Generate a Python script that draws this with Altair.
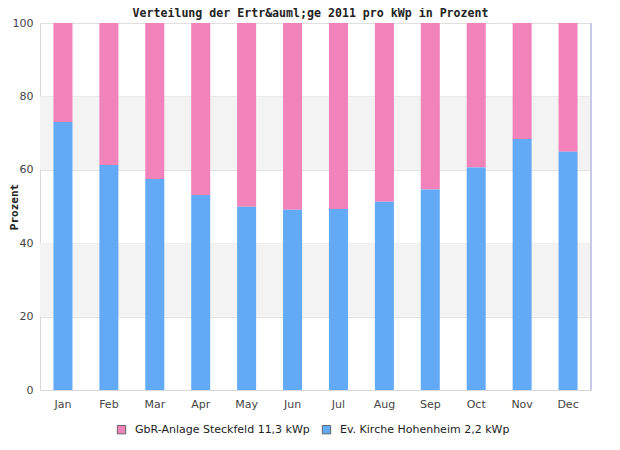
import altair as alt
import pandas as pd

months = ["Jan", "Feb", "Mar", "Apr", "May", "Jun", "Jul", "Aug", "Sep", "Oct", "Nov", "Dec"]
kirche = [73.0, 61.3, 57.5, 53.1, 49.9, 49.1, 49.3, 51.3, 54.6, 60.6, 68.4, 64.9]
gbr = [round(100 - v, 1) for v in kirche]
series_names = ["GbR-Anlage Steckfeld 11,3 kWp", "Ev. Kirche Hohenheim 2,2 kWp"]
series_colors = ["#f282ba", "#62aaf5"]
band_lo = [20, 60]
band_hi = [40, 80]

rows = []
for m, g, k in zip(months, gbr, kirche):
    rows.append({"Monat": m, "Serie": series_names[0], "Wert": g, "ord": 1})
    rows.append({"Monat": m, "Serie": series_names[1], "Wert": k, "ord": 0})
df = pd.DataFrame(rows)
bands = pd.DataFrame({"lo": band_lo, "hi": band_hi})

W, H = 551, 367

band_layer = alt.Chart(bands).mark_rect(color="#f3f3f3").encode(
    y=alt.Y("lo:Q", scale=alt.Scale(domain=[0, 100])),
    y2="hi:Q",
    x=alt.value(0),
    x2=alt.value(W),
)

bars = alt.Chart(df).mark_bar(size=19).encode(
    x=alt.X("Monat:N", sort=months, title=None,
            axis=alt.Axis(labelAngle=0, labelColor="#444444", labelFont="DejaVu Sans",
                          labelFontSize=11, domainColor="#d8d8d8", ticks=False,
                          labelPadding=8, grid=False)),
    y=alt.Y("Wert:Q", stack="zero", scale=alt.Scale(domain=[0, 100], nice=False),
            title="Prozent",
            axis=alt.Axis(values=[0, 20, 40, 60, 80, 100], labelColor="#444444",
                          labelFont="DejaVu Sans", labelFontSize=11, ticks=False,
                          labelPadding=7, domainColor="#d8d8d8",
                          gridColor="#e0e0e0", grid=True,
                          titleFont="DejaVu Sans Mono", titleFontSize=11,
                          titleFontWeight="bold", titleColor="#222222",
                          titleX=-23, titleY=H / 2, titleAngle=270,
                          titleBaseline="alphabetic", titleAlign="center")),
    color=alt.Color("Serie:N", scale=alt.Scale(domain=series_names, range=series_colors),
                    title=None,
                    legend=alt.Legend(orient="none", direction="horizontal",
                                      legendX=76, legendY=401, symbolType="square",
                                      symbolSize=70, symbolStrokeColor="#666666",
                                      symbolStrokeWidth=1, labelFont="DejaVu Sans",
                                      labelFontSize=11, labelColor="#222222",
                                      labelLimit=400, columnPadding=10, labelOffset=8)),
    order=alt.Order("ord:Q"),
)

right_edge = alt.Chart(bands).mark_rule(color="#c8c8e8", strokeWidth=2).encode(
    x=alt.value(W), y=alt.value(0), y2=alt.value(H)
)

chart = alt.layer(band_layer, bars, right_edge).properties(
    width=W, height=H,
    title=alt.Title("Verteilung der Ertr&auml;ge 2011 pro kWp in Prozent",
                    font="DejaVu Sans Mono", fontSize=11.6, fontWeight="bold",
                    color="#222222", offset=1, dy=4, dx=-5),
    autosize=alt.AutoSizeParams(type="none"),
    padding={"left": 32, "top": 15, "right": 21, "bottom": 51},
).configure_view(stroke=None).configure_axis(labelFontWeight="normal")

chart.save("out.html", embed_options={"renderer": "svg", "actions": False})
